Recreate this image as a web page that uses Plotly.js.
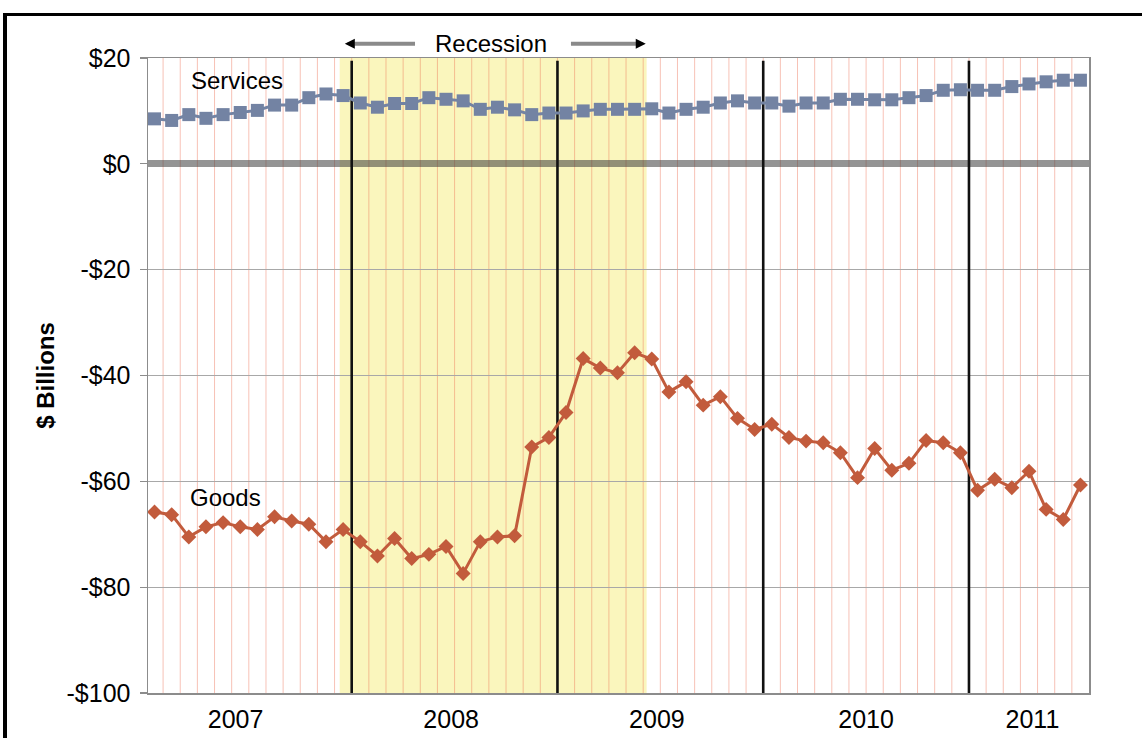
<!DOCTYPE html>
<html>
<head>
<meta charset="utf-8">
<script src="https://cdn.plot.ly/plotly-3.0.1.min.js"></script>
<style>
html,body{margin:0;padding:0;background:#fff;}
#wrap{position:relative;width:1142px;height:738px;overflow:hidden;}
#chart{position:absolute;left:0;top:0;width:1142px;height:738px;}
#frame{position:absolute;left:3px;top:13px;width:1300px;height:900px;border-left:4px solid #000;border-top:3px solid #000;pointer-events:none;}
</style>
</head>
<body>
<div id="wrap"><div id="chart"></div><div id="frame"></div></div>
<script>
// ---- data ----
const months = [
  '2007-01','2007-02','2007-03','2007-04','2007-05','2007-06','2007-07','2007-08','2007-09','2007-10','2007-11','2007-12',
  '2008-01','2008-02','2008-03','2008-04','2008-05','2008-06','2008-07','2008-08','2008-09','2008-10','2008-11','2008-12',
  '2009-01','2009-02','2009-03','2009-04','2009-05','2009-06','2009-07','2009-08','2009-09','2009-10','2009-11','2009-12',
  '2010-01','2010-02','2010-03','2010-04','2010-05','2010-06','2010-07','2010-08','2010-09','2010-10','2010-11','2010-12',
  '2011-01','2011-02','2011-03','2011-04','2011-05','2011-06','2011-07'
];
const services = [8.5, 8.2, 9.3, 8.6, 9.3, 9.7, 10.1, 11.1, 11.1, 12.5, 13.2, 12.9,
  11.5, 10.7, 11.4, 11.4, 12.5, 12.2, 11.9, 10.3, 10.7, 10.2, 9.3, 9.6,
  9.6, 10.0, 10.3, 10.3, 10.3, 10.4, 9.6, 10.3, 10.7, 11.5, 11.9, 11.5,
  11.5, 10.9, 11.5, 11.5, 12.2, 12.2, 12.1, 12.1, 12.5, 12.9, 13.9, 14.0,
  13.9, 13.9, 14.6, 15.1, 15.5, 15.8, 15.8];
const goods = [-65.8, -66.3, -70.5, -68.6, -67.8, -68.6, -69.1, -66.7, -67.5, -68.1, -71.4, -69.1,
  -71.4, -74.1, -70.8, -74.6, -73.8, -72.3, -77.4, -71.4, -70.5, -70.3, -53.5, -51.7,
  -47.0, -36.8, -38.6, -39.5, -35.7, -36.9, -43.1, -41.2, -45.6, -44.0, -48.1, -50.2,
  -49.2, -51.7, -52.4, -52.7, -54.6, -59.3, -53.8, -57.9, -56.6, -52.3, -52.7, -54.6,
  -61.7, -59.6, -61.2, -58.1, -65.3, -67.2, -60.7];
const yearLabels = ['2007', '2008', '2009', '2010', '2011'];
const yTickValues = [20, 0, -20, -40, -60, -80, -100];
const yTickLabels = ['$20', '$0', '-$20', '-$40', '-$60', '-$80', '-$100'];
const seriesNames = ['Services', 'Goods'];
const recessionLabel = 'Recession';
const yTitle = '$ Billions';

// ---- layout settings (positions in month-index units) ----
const yearLabelPos = [4.73, 17.3, 29.3, 41.5, 51.2];
const recession = {start: 10.8, end: 28.7};
const FONT = '"Liberation Sans", Arial, Helvetica, sans-serif';

const xIdx = months.map((m, i) => i);

const traces = [
  {x: xIdx, y: services, name: seriesNames[0], type: 'scatter', mode: 'lines+markers',
   line: {color: '#7383a3', width: 3},
   marker: {symbol: 'square', size: 13, color: '#7383a3'}},
  {x: xIdx, y: goods, name: seriesNames[1], type: 'scatter', mode: 'lines+markers',
   line: {color: '#c25b3c', width: 3},
   marker: {symbol: 'diamond', size: 11.5, color: '#c25b3c'}}
];

const shapes = [
  {type: 'rect', layer: 'below', xref: 'x', yref: 'paper', x0: recession.start, x1: recession.end, y0: 0, y1: 1,
   fillcolor: '#faf6bd', line: {width: 0}}
];
// monthly boundary grid lines
months.forEach((m, i) => {
  if (i < months.length - 1) {
    shapes.push({type: 'line', layer: 'below', xref: 'x', yref: 'paper', x0: i + 0.5, x1: i + 0.5, y0: 0, y1: 1,
      line: {color: 'rgba(236,110,80,0.42)', width: 1}});
  }
});
// year boundary lines
months.forEach((m, i) => {
  if (i > 0 && m.endsWith('-01')) {
    shapes.push({type: 'line', layer: 'between', xref: 'x', yref: 'y', x0: i - 0.5, x1: i - 0.5, y0: -100, y1: 19.5,
      line: {color: '#111', width: 2.6}});
  }
});

const yArrow = 1 + (58.3 - 44) / 634.4;
const annotations = [
  {xref: 'x', yref: 'y', x: 4.8, y: 15.7, text: seriesNames[0], showarrow: false,
   font: {family: FONT, size: 24, color: '#000'}},
  {xref: 'x', yref: 'y', x: 4.15, y: -63.1, text: seriesNames[1], showarrow: false,
   font: {family: FONT, size: 24, color: '#000'}},
  {xref: 'x', yref: 'paper', x: 19.6, y: yArrow, yanchor: 'middle', text: recessionLabel, showarrow: false,
   font: {family: FONT, size: 24, color: '#000'}},
  // arrow shafts
  {xref: 'x', yref: 'paper', x: recession.start + 0.85, y: yArrow, axref: 'x', ax: 15.28, ay: 0, text: '',
   showarrow: true, arrowhead: 0, arrowcolor: '#8a8a8a', arrowwidth: 4},
  {xref: 'x', yref: 'paper', x: recession.end - 0.6, y: yArrow, axref: 'x', ax: 24.2, ay: 0, text: '',
   showarrow: true, arrowhead: 0, arrowcolor: '#8a8a8a', arrowwidth: 4},
  // arrow heads
  {xref: 'x', yref: 'paper', x: recession.start + 0.3, y: yArrow, ax: 6, ay: 0, text: '',
   showarrow: true, arrowhead: 2, arrowsize: 1, arrowwidth: 2, arrowcolor: '#000'},
  {xref: 'x', yref: 'paper', x: recession.end - 0.05, y: yArrow, ax: -6, ay: 0, text: '',
   showarrow: true, arrowhead: 2, arrowsize: 1, arrowwidth: 2, arrowcolor: '#000'}
];

const layout = {
  width: 1142, height: 738,
  margin: {l: 148, r: 53, t: 58, b: 45, pad: 0},
  paper_bgcolor: '#fff', plot_bgcolor: '#fff',
  showlegend: false,
  font: {family: FONT, size: 25, color: '#000'},
  xaxis: {
    range: [-0.38, 54.5], fixedrange: true,
    tickmode: 'array', tickvals: yearLabelPos, ticktext: yearLabels,
    ticks: '', showgrid: false, zeroline: false,
    ticklabelstandoff: 3,
    tickfont: {family: FONT, size: 25, color: '#000'},
    showline: true, mirror: true, linecolor: '#8c8c8c', linewidth: 1.5
  },
  yaxis: {
    range: [-100, 20], fixedrange: true,
    tickmode: 'array', tickvals: yTickValues, ticktext: yTickLabels,
    ticks: 'outside', ticklen: 7, tickcolor: '#8c8c8c', tickwidth: 1.2,
    ticklabelstandoff: 4,
    tickfont: {family: FONT, size: 25, color: '#000'},
    showgrid: true, gridcolor: '#a8a8a8', gridwidth: 1,
    zeroline: true, zerolinecolor: 'rgba(60,60,60,0.55)', zerolinewidth: 7,
    showline: true, mirror: true, linecolor: '#8c8c8c', linewidth: 1.5,
    title: {text: '<b>' + yTitle + '</b>', standoff: 5, font: {family: FONT, size: 24, color: '#000'}}
  },
  shapes: shapes,
  annotations: annotations
};

Plotly.newPlot('chart', traces, layout, {staticPlot: true, displayModeBar: false});
</script>
</body>
</html>
